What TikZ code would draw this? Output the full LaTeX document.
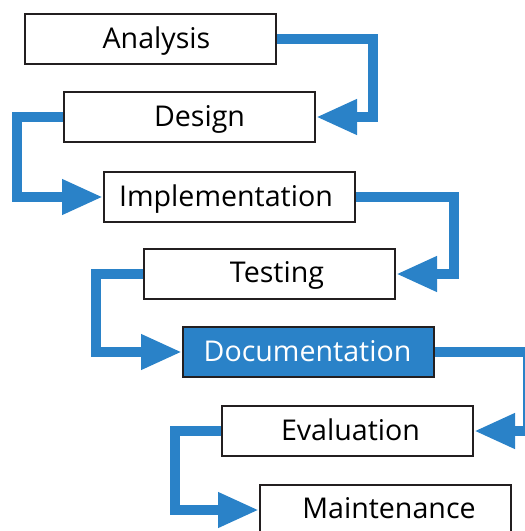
\documentclass[tikz,border=0pt]{standalone}
\usepackage{fontspec}
\setmainfont{Open Sans}
\usetikzlibrary{arrows.meta}
\definecolor{flowblue}{HTML}{2A82C8}
\definecolor{edgegray}{HTML}{231F20}
\tikzset{
  stagebox/.style={draw=edgegray, line width=2pt, fill=white, minimum width=251pt, minimum height=50pt, inner sep=0pt, anchor=north west},
  hibox/.style={stagebox, fill=flowblue},
  stagetext/.style={inner sep=0pt, anchor=base, font=\fontsize{28.6}{34}\selectfont, text=black},
  hitext/.style={stagetext, text=white},
  flow/.style={draw=flowblue, line width=10pt, line join=miter, -{Triangle[length=41pt,width=33pt]}}
}
\begin{document}
\begin{tikzpicture}[x=1pt,y=-1pt]
\useasboundingbox (0,0) rectangle (525,531);
\clip (0,0) rectangle (525,531);
% boxes
\node[stagebox] (an) at (24,13) {};
\node[stagebox] (de) at (63,91) {};
\node[stagebox] (im) at (103,171) {};
\node[stagebox] (te) at (143,248) {};
\node[hibox] (do) at (182,326) {};
\node[stagebox] (ev) at (221,405) {};
\node[stagebox] (ma) at (259,484) {};
% labels
\node[stagetext] (tan) at ([xshift=6pt,yshift=-9pt]an.center) {Analysis};
\node[stagetext] (tde) at ([xshift=10pt,yshift=-9pt]de.center) {Design};
\node[stagetext] (tim) at ([xshift=-3.5pt,yshift=-9.5pt]im.center) {Implementation};
\node[stagetext] (tte) at ([xshift=7.5pt,yshift=-8pt]te.center) {Testing};
\node[hitext] (tdo) at ([xshift=-1pt,yshift=-9pt]do.center) {Documentation};
\node[stagetext] (tev) at ([xshift=3pt,yshift=-9pt]ev.center) {Evaluation};
\node[stagetext] (tma) at ([xshift=3.5pt,yshift=-8pt]ma.center) {Maintenance};
% connectors
\draw[flow] (an.east) -- ++(96,0) |- (de.east);
\draw[flow] (de.west) -- ++(-46,0) |- (im.west);
\draw[flow] (im.east) -- ++(98,0) |- (te.east);
\draw[flow] (te.west) -- ++(-47,0) |- (do.west);
\draw[flow] (do.east) -- ++(93,0) |- (ev.east);
\draw[flow] (ev.west) -- ++(-46,0) |- (ma.west);
\end{tikzpicture}
\end{document}
